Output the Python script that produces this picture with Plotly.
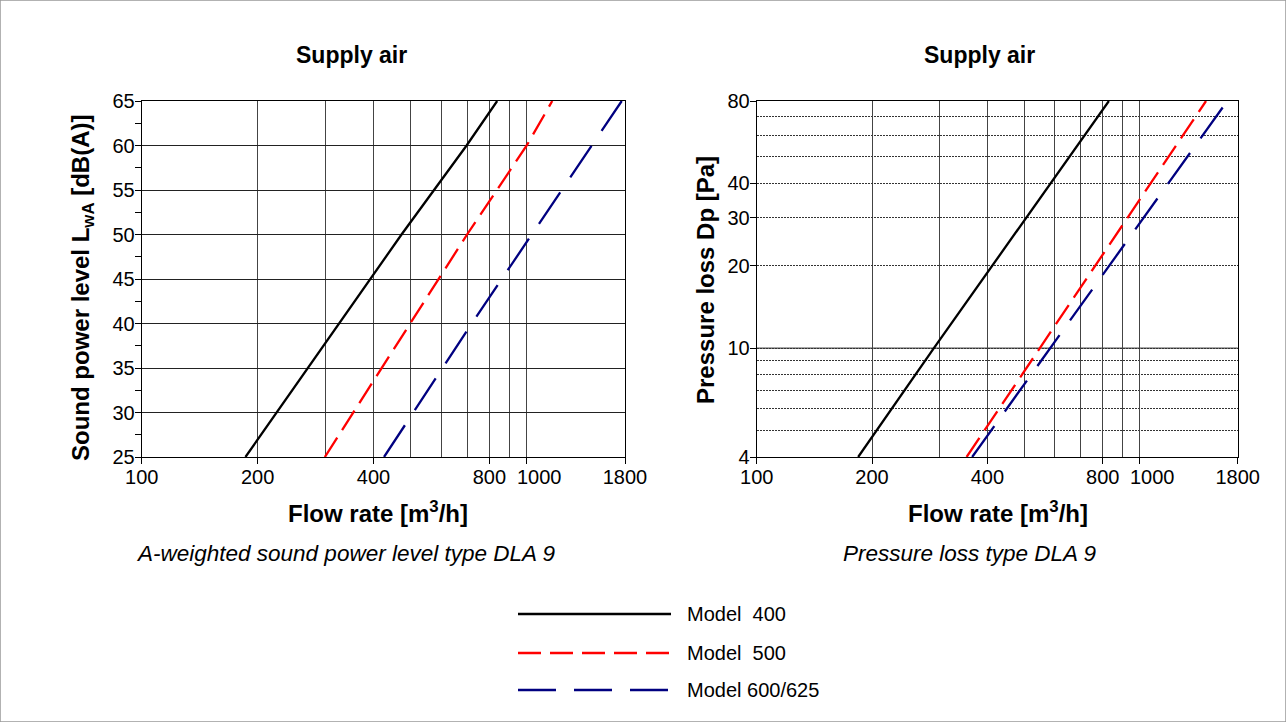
import math
import plotly.graph_objects as go

# ---------------- data ----------------
series_names = ["Model  400", "Model  500", "Model 600/625"]

# Left chart: A-weighted sound power level L_WA [dB(A)] vs flow rate [m3/h]
swl_flow_400 = [186, 473, 698, 838]
swl_level_400 = [25, 50, 60, 65]
swl_flow_500 = [299, 700, 1000, 1165]
swl_level_500 = [25, 50, 60, 65]
swl_flow_600 = [426, 720, 1765]
swl_level_600 = [25, 40, 65]

# Right chart: pressure loss Dp [Pa] vs flow rate [m3/h]
dp_flow_400 = [184, 290, 830]
dp_value_400 = [4, 10, 80]
dp_flow_500 = [353, 548, 1488]
dp_value_500 = [4, 10, 80]
dp_flow_600 = [365, 583, 1691]
dp_value_600 = [4, 10, 80]

x_tickvals = [100, 200, 400, 800, 1000, 1800]
x_ticktext = ["100", "200", "400", "800", "", "1800"]   # "1000" is drawn shifted right
x_minor_vals = [300, 500, 600, 700, 900]
swl_tickvals = [25, 30, 35, 40, 45, 50, 55, 60, 65]
dp_tickvals = [4, 10, 20, 30, 40, 80]
dp_minor_vals = [5, 6, 7, 8, 9, 50, 60, 70]

# ---------------- styling ----------------
W, H = 1286, 722
FONT = "Liberation Sans, Arial, sans-serif"
styles = [
    dict(color="#000000", width=2.3, dash="solid"),
    dict(color="#ff0000", width=2.3, dash="23px,9px"),
    dict(color="#000080", width=2.3, dash="38px,18px"),
]

def px_x(v):
    return v / W

def px_y(v):
    return 1 - v / H

fig = go.Figure()

left_sets = [(swl_flow_400, swl_level_400), (swl_flow_500, swl_level_500), (swl_flow_600, swl_level_600)]
right_sets = [(dp_flow_400, dp_value_400), (dp_flow_500, dp_value_500), (dp_flow_600, dp_value_600)]

for name, (xs, ys), st in zip(series_names, left_sets, styles):
    fig.add_trace(go.Scatter(x=xs, y=ys, mode="lines", name=name, line=st,
                             xaxis="x", yaxis="y", showlegend=False))
for name, (xs, ys), st in zip(series_names, right_sets, styles):
    fig.add_trace(go.Scatter(x=xs, y=ys, mode="lines", name=name, line=st,
                             xaxis="x2", yaxis="y2", showlegend=False))

grid_col = "#222222"
vgrid_col = "#444444"
tickfont = dict(family=FONT, size=20, color="#000")

xcommon = dict(
    type="log", range=[math.log10(100), math.log10(1800)],
    tickmode="array", tickvals=x_tickvals, ticktext=x_ticktext, tickangle=0,
    showgrid=True, gridcolor=vgrid_col, gridwidth=1,
    minor=dict(tickmode="array", tickvals=x_minor_vals, showgrid=True,
               gridcolor=vgrid_col, gridwidth=1, ticks=""),
    ticks="outside", ticklen=6, tickcolor="#000",
    showline=True, linecolor="#000", linewidth=1, mirror=True,
    tickfont=tickfont, zeroline=False, ticklabelstandoff=-4,
)

y_dom = [px_y(457), px_y(101)]
fig.update_layout(
    autosize=True,
    margin=dict(l=0, r=0, t=0, b=0, autoexpand=False),
    paper_bgcolor="white", plot_bgcolor="white",
    font=dict(family=FONT, color="#000"),
    showlegend=False,
    xaxis=dict(domain=[px_x(141.7), px_x(625)], anchor="y", **xcommon),
    xaxis2=dict(domain=[px_x(756.7), px_x(1237.7)], anchor="y2", **xcommon),
    yaxis=dict(
        domain=y_dom, anchor="x", range=[25, 65],
        tickmode="array", tickvals=swl_tickvals,
        showgrid=True, gridcolor=grid_col, gridwidth=1,
        ticks="outside", ticklen=6, tickcolor="#000",
        minor=dict(dtick=2.5, ticks="outside", ticklen=6, tickcolor="#000", showgrid=False),
        showline=True, linecolor="#000", linewidth=1, mirror=True,
        tickfont=tickfont, zeroline=False, ticklabelstandoff=-4,
    ),
    yaxis2=dict(
        domain=y_dom, anchor="x2", type="log",
        range=[math.log10(4), math.log10(80)],
        tickmode="array", tickvals=dp_tickvals, ticktext=[str(v) for v in dp_tickvals],
        showgrid=True, gridcolor="#333", gridwidth=1, griddash="2px,1px",
        minor=dict(tickmode="array", tickvals=dp_minor_vals, showgrid=True,
                   gridcolor="#333", gridwidth=1, griddash="2px,1px", ticks=""),
        ticks="outside", ticklen=6, tickcolor="#000",
        showline=True, linecolor="#000", linewidth=1, mirror=True,
        tickfont=tickfont, zeroline=False, ticklabelstandoff=-4,
    ),
)

# solid grid line at 10 Pa
fig.add_shape(type="line", xref="x2 domain", x0=0, x1=1, yref="y2", y0=10, y1=10,
              line=dict(color=grid_col, width=1), layer="below")

# outer border
fig.add_shape(type="rect", xref="paper", yref="paper", x0=0, x1=1, y0=0, y1=1,
              line=dict(color="#999", width=1.5))

ann = []
def text(x, y, s, size, bold=False, italic=False, angle=0, xanchor="center"):
    if bold:
        s = "<b>" + s + "</b>"
    if italic:
        s = "<i>" + s + "</i>"
    ann.append(dict(x=px_x(x), y=px_y(y), xref="paper", yref="paper", text=s,
                    showarrow=False, textangle=angle, xanchor=xanchor, yanchor="middle",
                    font=dict(family=FONT, size=size, color="#000")))

text(351, 55, "Supply air", 23, bold=True)
text(980, 55, "Supply air", 23, bold=True)
text(378, 512, "Flow rate [m<sup>3</sup>/h]", 24, bold=True)
text(998, 512, "Flow rate [m<sup>3</sup>/h]", 24, bold=True)
text(82, 288, "Sound power level L<sub>wA</sub> [dB(A)]", 24, bold=True, angle=-90)
text(705, 280, "Pressure loss Dp [Pa]", 24, bold=True, angle=-90)
text(345, 553, "A-weighted sound power level type DLA 9", 22.5, italic=True)
text(970, 553, "Pressure loss type DLA 9", 22.5, italic=True)

# "1000" tick labels, set slightly right of their tick as in the reference
for xa in ["x", "x2"]:
    ann.append(dict(x=math.log10(x_tickvals[4]), xref=xa, y=px_y(477), yref="paper",
                    text="1000", showarrow=False, xanchor="center", yanchor="middle",
                    xshift=13, font=tickfont))

# legend
legend_y = [614, 653, 690]
for name, st, ly in zip(series_names, styles, legend_y):
    fig.add_shape(type="line", xref="paper", yref="paper",
                  x0=px_x(518), x1=px_x(671), y0=px_y(ly), y1=px_y(ly),
                  line=dict(color=st["color"], width=st["width"], dash=st["dash"]))
    text(685, ly, name.replace("  ", "&nbsp; "), 20, xanchor="left")

fig.update_layout(annotations=ann)

fig.write_html(
    "out.html",
    config={"displayModeBar": False, "responsive": True},
    default_width="100vw",
    default_height="100vh",
    post_script="document.body.style.margin='0';document.body.style.overflow='hidden';",
)
